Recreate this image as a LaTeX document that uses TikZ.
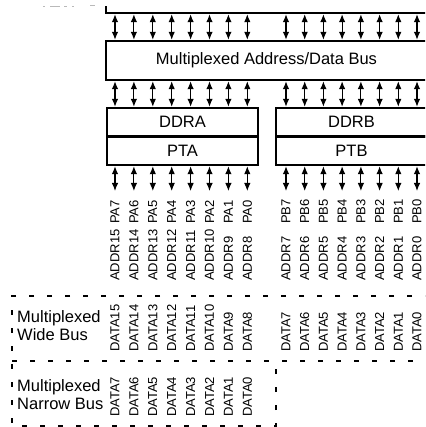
\documentclass[tikz,border=0pt]{standalone}
\usepackage{fontspec}
\setmainfont{Liberation Sans}
\usetikzlibrary{arrows.meta}
\begin{document}
\begin{tikzpicture}[x=1pt,y=1pt,
  thickline/.style={line width=2.4pt},
  regbox/.style={draw,line width=2.4pt,inner sep=0pt,font=\fontsize{16.5}{18}\selectfont},
  biarrow/.style={line width=1.1pt,{Latex[length=8pt,width=6.5pt]}-{Latex[length=8pt,width=6.5pt]}},
  lab/.style={inner sep=0pt,anchor=west,rotate=90,font=\fontsize{13}{13}\selectfont},
  sidelab/.style={inner sep=0pt,anchor=west,align=left,font=\fontsize{16.5}{18}\selectfont},
  dashline/.style={line width=1.1pt,dash pattern=on 5pt off 13pt}]
\clip (0,0) rectangle (425,-427);
% faint cut-off marks at top left
\draw[gray!55,line width=1pt] (43,-7)--(45,-7) (50,-7)--(60,-7) (64,-7)--(67,-7) (72,-7)--(74,-7) (90,-6)--(95,-6);
% top bus line
\coordinate (topL) at (106,-6.5);
\coordinate (topC) at (106,-13);
\coordinate (topR) at (440,-13);
\draw[thickline] (topL) -- (topC) -- (topR);
% bus box
\node[regbox,minimum width=321pt,minimum height=39pt] (bus) at (266.5,-60.5) {Multiplexed Address/Data Bus};
% DDRA/PTA
\node[regbox,minimum width=151pt,minimum height=28.5pt] (ddra) at (182.5,-122.25) {DDRA};
\node[regbox,minimum width=151pt,minimum height=28.5pt] (pta) at (182.5,-150.75) {PTA};
\node[regbox,minimum width=151pt,minimum height=28.5pt] (ddrb) at (351.5,-122.25) {DDRB};
\node[regbox,minimum width=151pt,minimum height=28.5pt] (ptb) at (351.5,-150.75) {PTB};
% group A
\foreach \x [count=\i] in {115,133.9,152.8,171.7,190.6,209.5,228.4,247.3} {
  \pgfmathtruncatemacro{\n}{8-\i}
  \pgfmathtruncatemacro{\m}{16-\i}
  \coordinate (ua\i) at (\x,-14.2);
  \draw[biarrow] (ua\i) -- (ua\i |- bus.north);
  \coordinate (ma\i) at (\x,-80);
  \draw[biarrow] (ma\i |- bus.south) -- (ma\i |- ddra.north);
  \coordinate (da\i) at (\x,-191);
  \draw[biarrow] (da\i |- pta.south) -- (da\i);
  \node[lab] (pa\i) at (\x,-224) {PA\n};
  \node[lab] (adA\i) at (\x,-281) {ADDR\m};
  \node[lab] (dwA\i) at (\x,-352) {DATA\m};
  \node[lab] (dn\i) at (\x,-417) {DATA\n};
}
% group B
\foreach \x [count=\i] in {286,304.7,323.4,342.1,360.9,379.6,398.3,417} {
  \pgfmathtruncatemacro{\n}{8-\i}
  \coordinate (ub\i) at (\x,-14.2);
  \draw[biarrow] (ub\i) -- (ub\i |- bus.north);
  \coordinate (mb\i) at (\x,-80);
  \draw[biarrow] (mb\i |- bus.south) -- (mb\i |- ddrb.north);
  \coordinate (db\i) at (\x,-191);
  \draw[biarrow] (db\i |- ptb.south) -- (db\i);
  \node[lab] (pb\i) at (\x,-224) {PB\n};
  \node[lab] (adB\i) at (\x,-281) {ADDR\n};
  \node[lab] (dwB\i) at (\x,-352) {DATA\n};
}
% dashed boxes
\coordinate (w1) at (12,-296);
\coordinate (w2) at (430,-296);
\coordinate (w3) at (12,-361);
\coordinate (w4) at (430,-361);
\coordinate (n1) at (12,-426);
\coordinate (n2) at (276,-426);
\coordinate (n3) at (276,-361);
\draw[dashline] (w2) -- (w1) -- (n1) -- (n2) -- (n3);
\draw[dashline] (w3) -- (w4);
\node[sidelab] (wide) at (17,-326) {Multiplexed\\Wide Bus};
\node[sidelab] (narrow) at (17,-395) {Multiplexed\\Narrow Bus};
\end{tikzpicture}
\end{document}
